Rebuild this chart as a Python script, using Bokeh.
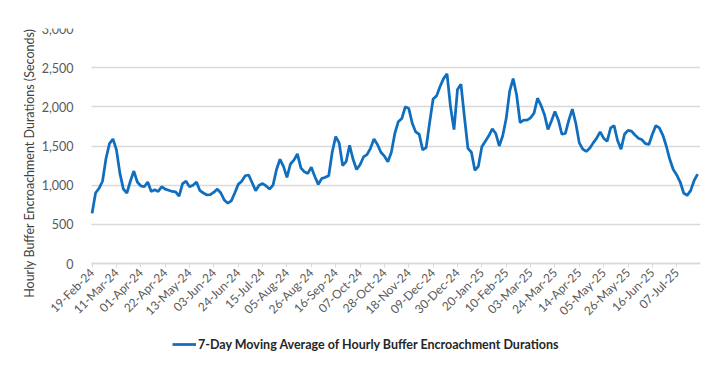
import numpy as np
import pandas as pd
from math import pi
from bokeh.plotting import figure
from bokeh.models import (ColumnDataSource, FixedTicker, DatetimeTickFormatter,
                          NumeralTickFormatter, Legend, LegendItem, Title, Range1d, Grid)
from bokeh.embed import file_html
from bokeh.resources import INLINE

start_date = "2024-02-19"
step_days = 3
values = [
    640, 900, 960, 1050, 1340, 1530, 1590, 1450, 1150, 950,
    900, 1050, 1180, 1040, 990, 980, 1040, 920, 940, 920,
    980, 950, 935, 920, 915, 860, 1020, 1050, 980, 1000,
    1040, 930, 900, 875, 880, 910, 950, 900, 810, 770,
    800, 900, 1010, 1050, 1120, 1130, 1030, 930, 1000, 1020,
    990, 950, 1000, 1200, 1330, 1240, 1100, 1270, 1320, 1400,
    1220, 1170, 1150, 1230, 1110, 1010, 1085, 1100, 1120, 1420,
    1620, 1540, 1250, 1300, 1510, 1330, 1200, 1260, 1360, 1390,
    1470, 1590, 1520, 1420, 1370, 1300, 1420, 1660, 1810, 1850,
    2000, 1980, 1790, 1680, 1650, 1450, 1480, 1800, 2100, 2140,
    2260, 2360, 2420, 2000, 1710, 2220, 2290, 1870, 1470, 1420,
    1190, 1240, 1490, 1560, 1630, 1720, 1660, 1500, 1630, 1850,
    2200, 2360, 2150, 1800, 1830, 1830, 1860, 1920, 2110, 2020,
    1900, 1710, 1820, 1940, 1830, 1650, 1660, 1830, 1970, 1790,
    1540, 1460, 1430, 1470, 1540, 1600, 1680, 1600, 1560, 1730,
    1760, 1570, 1460, 1650, 1700, 1690, 1640, 1600, 1580, 1530,
    1520, 1650, 1760, 1730, 1640, 1500, 1330, 1200, 1130, 1040,
    900, 870, 930, 1060, 1140,
]
tick_start = "2024-02-19"
tick_end = "2025-07-07"
tick_step = "21D"
y_ticks = [0, 500, 1000, 1500, 2000, 2500, 3000]
series_name = "7-Day Moving Average of Hourly Buffer Encroachment Durations"
y_title = "Hourly Buffer Encroachment Durations (Seconds)"

dates = pd.date_range(start_date, periods=len(values), freq=f"{step_days}D")
src = ColumnDataSource(dict(date=dates, value=values))
tick_dates = pd.date_range(tick_start, tick_end, freq=tick_step)
tick_ms = [float(t.value // 10**6) for t in tick_dates]

FONT = "Lato"
GRID = "#d9d9d9"
TXT = "#595959"

x0_ms = (pd.Timestamp(start_date) - pd.Timedelta(hours=12)).value / 1e6
x1_ms = pd.Timestamp("2025-07-27 12:00").value / 1e6
span = x1_ms - x0_ms          # shown over the 609 px wide plotting area

Y_TOP = 3000
Y_BOTTOM = -Y_TOP * (373 - 28 - 235) / 235

has_cross = "cross_bounds" in Grid.properties()
if has_cross:
    left_border = 40
    x_start = x0_ms - (91 - left_border) * span / 609
else:
    left_border = 91
    x_start = x0_ms

p = figure(x_axis_type="datetime", output_backend="svg", toolbar_location=None,
           width=717, height=373,
           min_border_left=left_border, min_border_right=17, min_border_top=28,
           min_border_bottom=0,
           x_range=Range1d(x_start, x1_ms), y_range=Range1d(Y_BOTTOM, Y_TOP))
p.outline_line_color = None
p.background_fill_color = "white"
p.border_fill_color = "white"

r = p.line("date", "value", source=src, line_color="#0F6EBE", line_width=2.75)

# x axis (drawn at y = 0)
p.xaxis.fixed_location = 0
p.xaxis.bounds = (x0_ms, x1_ms)
p.xaxis.ticker = FixedTicker(ticks=tick_ms)
fmt = "%d-%b-%y"
p.xaxis.formatter = DatetimeTickFormatter(days=fmt, months=fmt, years=fmt, hours=fmt)
p.xaxis.major_label_orientation = pi / 4
p.xaxis.axis_line_color = GRID
p.xaxis.axis_line_width = 1.5
p.xaxis.major_tick_line_color = GRID
p.xaxis.major_tick_out = 4
p.xaxis.major_tick_in = 0
p.xaxis.minor_tick_line_color = None
p.xaxis.major_label_text_font = FONT
p.xaxis.major_label_text_font_size = "12px"
p.xaxis.major_label_text_color = TXT
p.xaxis.major_label_standoff = 3
p.xgrid.grid_line_color = None

# y axis
p.yaxis.ticker = FixedTicker(ticks=y_ticks)
p.yaxis.formatter = NumeralTickFormatter(format="0,0")
p.yaxis.axis_line_color = None
p.yaxis.major_tick_line_color = None
p.yaxis.minor_tick_line_color = None
p.yaxis.major_label_standoff = 12
p.yaxis.major_label_text_font = FONT
p.yaxis.major_label_text_font_size = "12.5px"
p.yaxis.major_label_text_color = TXT
p.ygrid.grid_line_color = GRID
p.ygrid.grid_line_width = 1.5
if has_cross:
    p.yaxis.fixed_location = x0_ms
    p.ygrid.cross_bounds = (x0_ms, x1_ms)

ttl = Title(text=y_title, align="right", standoff=(8 if has_cross else 16),
            text_font=FONT, text_font_size="12.5px", text_font_style="normal",
            text_color="#404040")
p.add_layout(ttl, "left")

legend = Legend(items=[LegendItem(label=series_name, renderers=[r])],
                orientation="horizontal", location=(172 - left_border, 19),
                label_text_font=FONT, label_text_font_style="bold",
                label_text_font_size="12.5px", label_text_color="#262626",
                glyph_width=24, label_standoff=2, padding=0, margin=0,
                border_line_color=None, background_fill_alpha=0)
p.add_layout(legend)

open("out.html", "w").write(file_html(p, INLINE))
